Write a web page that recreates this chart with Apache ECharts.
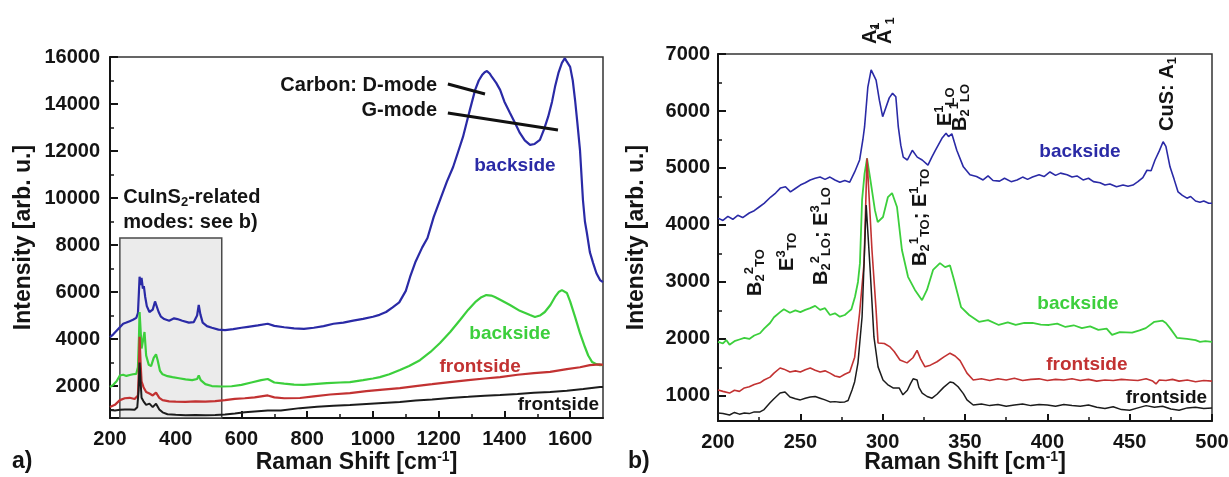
<!DOCTYPE html>
<html><head><meta charset="utf-8">
<script src="https://cdn.jsdelivr.net/npm/echarts@6/dist/echarts.min.js"></script>
<style>html,body{margin:0;padding:0;background:#fff}#c{width:1229px;height:477px}</style>
</head><body><div id="c"></div>
<script>
// ---------------- DATA ----------------
// Panel a) : Raman shift [cm-1] vs intensity
const aBacksideBlue = [[200,4080],[210,4200],[220,4350],[230,4500],[240,4650],[250,4700],[260,4760],[270,4820],[280,4900],[285,5100],[288,6000],[290,6650],[293,6300],[296,6600],[300,6150],[303,6250],[307,5800],[312,5400],[320,5150],[330,5250],[337,5600],[342,5550],[348,5150],[355,4950],[365,4850],[380,4780],[395,4880],[405,4850],[420,4780],[440,4700],[455,4720],[465,5000],[470,5450],[475,5050],[482,4700],[495,4550],[510,4480],[530,4400],[550,4380],[575,4420],[600,4480],[620,4520],[650,4580],[680,4650],[700,4560],[730,4500],[760,4450],[790,4430],[820,4480],[850,4550],[880,4650],[910,4700],[940,4780],[970,4860],[1000,4950],[1020,5030],[1040,5150],[1060,5350],[1080,5560],[1100,6050],[1113,6640],[1130,7300],[1150,7900],[1166,8300],[1185,9200],[1204,9915],[1225,10700],[1244,11320],[1260,12000],[1274,12600],[1285,13200],[1295,13750],[1311,14600],[1322,15000],[1332,15230],[1340,15350],[1347,15400],[1355,15300],[1362,15150],[1375,14900],[1387,14600],[1400,14100],[1417,13620],[1432,13200],[1447,12770],[1462,12450],[1478,12260],[1492,12300],[1508,12470],[1520,12900],[1533,13450],[1545,14100],[1554,14730],[1565,15350],[1575,15750],[1584,15950],[1590,15800],[1600,15580],[1608,15000],[1615,14170],[1622,13200],[1630,12040],[1639,9915],[1645,9000],[1651,8510],[1660,7700],[1670,7230],[1680,6800],[1691,6510],[1700,6420]];
const aBacksideGreen = [[200,1960],[210,2050],[220,2200],[230,2450],[240,2480],[250,2430],[260,2470],[270,2500],[280,2520],[285,2800],[288,4000],[290,5150],[293,4400],[296,3600],[300,3900],[305,4300],[310,3300],[318,2900],[325,2850],[333,3200],[340,3350],[345,3100],[352,2650],[360,2500],[375,2420],[390,2380],[410,2330],[430,2280],[450,2250],[465,2300],[470,2450],[476,2250],[490,2080],[510,2000],[540,1980],[570,1990],[600,2050],[630,2150],[660,2250],[680,2300],[700,2150],[730,2100],[760,2060],[790,2050],[820,2080],[860,2120],[900,2150],[930,2170],[970,2250],[1000,2320],[1021,2380],[1050,2500],[1082,2680],[1110,2850],[1143,3100],[1175,3450],[1204,3830],[1235,4300],[1265,4810],[1290,5250],[1311,5570],[1330,5780],[1345,5870],[1360,5850],[1371,5790],[1390,5650],[1417,5450],[1447,5200],[1478,5020],[1493,4940],[1508,5000],[1523,5150],[1540,5450],[1554,5790],[1565,6000],[1575,6080],[1590,5960],[1600,5600],[1615,4940],[1630,4250],[1645,3660],[1655,3300],[1667,3020],[1680,2930],[1691,2890],[1700,2900]];
const aFrontsideRed = [[200,1110],[215,1200],[230,1400],[245,1480],[260,1500],[275,1450],[285,1600],[288,2800],[290,4100],[293,3000],[296,2200],[302,1950],[310,1750],[320,1680],[330,1600],[340,1720],[350,1500],[360,1400],[380,1350],[400,1340],[430,1330],[460,1350],[490,1340],[520,1360],[550,1400],[580,1450],[610,1480],[640,1520],[680,1600],[700,1520],[730,1480],[778,1490],[820,1560],[870,1640],[930,1700],[980,1780],[1030,1850],[1082,1915],[1130,2000],[1180,2080],[1234,2170],[1290,2250],[1340,2320],[1387,2380],[1440,2480],[1490,2550],[1539,2600],[1590,2720],[1630,2800],[1660,2890],[1690,2920],[1700,2900]];
const aFrontsideBlack = [[200,980],[215,960],[230,990],[245,1000],[260,1000],[275,990],[283,1100],[287,1800],[290,3000],[293,2200],[296,1500],[302,1350],[310,1200],[320,1250],[330,1100],[340,1250],[350,1000],[360,880],[375,800],[400,780],[430,760],[460,770],[490,760],[520,770],[550,790],[580,830],[610,880],[640,920],[680,960],[720,960],[778,1060],[830,1120],[880,1160],[930,1190],[980,1240],[1030,1280],[1082,1320],[1130,1380],[1180,1430],[1234,1490],[1290,1540],[1340,1590],[1387,1620],[1440,1660],[1490,1710],[1539,1745],[1590,1800],[1640,1870],[1691,1960],[1700,1960]];

// Panel b)
const bBacksideBlue = [[200,4120],[203,4080],[206,4150],[209,4100],[212,4170],[215,4130],[219,4210],[222,4250],[225,4315],[228,4380],[232,4490],[235,4560],[238,4650],[241,4670],[244,4580],[247,4640],[250,4700],[253,4740],[256,4790],[259,4820],[262,4840],[265,4800],[268,4840],[271,4790],[274,4750],[277,4780],[280,4750],[283,4930],[286,5140],[288,5500],[289,5720],[291,6420],[293,6720],[296,6540],[298,6190],[300,5900],[301,5890],[304,6230],[306,6310],[308,6250],[309.5,5720],[311,5400],[312.5,5190],[315,5140],[318,5310],[321,5190],[324,5140],[327.5,5050],[330,5200],[332,5310],[336,5520],[338.5,5610],[340,5550],[342,5600],[345,5310],[349,5020],[353,4880],[357,4850],[361,4790],[364,4860],[367,4780],[371,4770],[374,4820],[378,4760],[381.6,4790],[385,4840],[388,4800],[391,4840],[395,4880],[398,4850],[401.6,4930],[405,4870],[408,4910],[412,4880],[415,4840],[418,4860],[421.7,4790],[425,4820],[428,4760],[432,4740],[435,4700],[438,4720],[442,4670],[446,4700],[449,4680],[452,4700],[455,4760],[458,4830],[460.5,4960],[463,4950],[465.4,5140],[468,5300],[470.3,5460],[472,5380],[474.5,5020],[477,4800],[479.4,4580],[482,4520],[484.8,4470],[487,4500],[490,4420],[492.7,4400],[495,4420],[498,4380],[500,4380]];
const bBacksideGreen = [[200,1950],[203,1920],[205,1980],[207,1900],[210,1960],[213,1990],[216,2020],[219,2000],[222,2060],[225.5,2100],[228,2180],[231.6,2280],[234,2380],[237.7,2470],[240,2520],[243.7,2460],[247,2500],[250,2470],[253,2510],[256,2540],[259,2580],[262,2510],[265,2540],[268,2420],[271,2450],[274,2390],[277,2420],[279,2470],[281,2520],[283.2,2740],[285,3000],[286.2,3330],[287.5,4440],[289,4900],[290.5,5170],[292.3,4840],[295.3,4260],[297,4050],[300.2,4140],[303.2,4490],[305.7,4560],[308.7,4315],[311.7,3560],[315.4,3090],[319.6,2860],[323.9,2680],[326.9,2860],[330.6,3210],[334.8,3330],[337.9,3260],[340.9,3290],[343.4,3030],[347.6,2560],[352.5,2420],[358.5,2300],[364,2330],[370.5,2245],[376,2290],[380.8,2245],[386,2280],[391,2280],[396,2250],[401,2245],[406,2270],[411,2210],[416,2240],[421,2190],[426,2220],[431,2160],[436,2180],[439.3,2070],[444,2120],[451.5,2110],[456,2150],[459.8,2190],[465,2300],[470,2320],[472,2280],[474.5,2190],[478.7,2020],[484.8,2000],[490,1980],[492.7,1950],[496,1960],[500,1950]];
const bFrontsideRed = [[200,1105],[203,1080],[207,1050],[210,1100],[213,1080],[216,1140],[219,1160],[222,1200],[225.5,1230],[228,1280],[231.6,1330],[234,1400],[237.7,1490],[240,1470],[243.7,1420],[247,1440],[250,1420],[253,1460],[256,1490],[259,1450],[262,1420],[265,1440],[268,1400],[271,1350],[274,1330],[277,1380],[280,1420],[283,1680],[286,2460],[288.7,3330],[290.5,5170],[293.5,3560],[296,2510],[297.2,1930],[298.4,1950],[301,1920],[304.5,1860],[307,1780],[310.5,1630],[314.8,1580],[318.4,1670],[320.9,1800],[323,1650],[325.7,1510],[329,1540],[333,1600],[337,1680],[340.9,1750],[344,1700],[347,1620],[351.2,1400],[355,1280],[360,1300],[365,1270],[370,1300],[375,1280],[380,1310],[385,1270],[390,1290],[395,1300],[400,1270],[405,1290],[410,1280],[415,1300],[420,1270],[425,1290],[430,1260],[435,1280],[440,1270],[445,1290],[450,1280],[455,1270],[460,1300],[464,1260],[466,1210],[468,1280],[472,1270],[476,1290],[480,1260],[485,1280],[490,1250],[495,1270],[500,1260]];
const bFrontsideBlack = [[200,700],[203,690],[207,665],[210,710],[213,680],[216,700],[219,690],[222,720],[225.5,720],[228,760],[231.6,880],[234,950],[237.7,1050],[240.7,1070],[243.7,980],[247,950],[250,930],[253,960],[256,980],[259,990],[262,960],[265,930],[268,895],[271,900],[274,890],[277,895],[279,920],[281.4,1105],[283,1250],[285,1580],[287.5,2390],[290,4350],[292.3,3260],[294.7,2035],[297.2,1510],[300.2,1280],[303,1200],[306.3,1140],[310,1140],[312.3,1020],[315,1100],[317,1220],[318.5,1300],[320.9,1280],[322,1150],[324,1050],[327,990],[330,960],[333,1030],[337,1150],[340.9,1245],[343,1230],[345.8,1160],[349,1040],[351.2,930],[355,840],[360,860],[365,830],[370,850],[375,820],[380,840],[385,860],[390,830],[395,850],[400,840],[405,820],[410,850],[415,830],[420,820],[425,840],[430,800],[435,780],[440,810],[445,760],[450,750],[455,790],[460,830],[465,800],[470,820],[475,770],[480,750],[485,790],[490,800],[495,780],[500,790]];

// Tick labels
const aXTicks = [200,400,600,800,1000,1200,1400,1600];
const aXMinor = [300,500,700,900,1100,1300,1500];
const aYTicks = [2000,4000,6000,8000,10000,12000,14000,16000];
const aYMinor = [1000,3000,5000,7000,9000,11000,13000,15000];
const bXTicks = [200,250,300,350,400,450,500];
const bXMinor = [225,275,325,375,425,475];
const bYTicks = [1000,2000,3000,4000,5000,6000,7000];
const bYMinor = [1500,2500,3500,4500,5500,6500];

// Annotation anchors (data coordinates)
const aRegionBox = [[230,640],[540,8300]];
const aModeLines = [[[1228,14851],[1341,14426]],[[1228,13617],[1563,12894]]];
</script>
<script>
const FONT = '"Liberation Sans", Arial, Helvetica, sans-serif';
const INK = '#141414';
const C_BLUE = '#2a2aa6', C_GREEN = '#3ccf3c', C_RED = '#c23232', C_BLACK = '#1c1c1c';
const chart = echarts.init(document.getElementById('c'), null, {renderer:'canvas'});

function nameRich(){
  return {a:{fontSize:23,fontWeight:'bold',fontFamily:FONT,color:INK,lineHeight:26},
          s:{fontSize:14,fontWeight:'bold',fontFamily:FONT,color:INK,lineHeight:14,verticalAlign:'top'}};
}
const plain = v => String(v);
function mainX(grid,min,max,ticks,gap){
  return {type:'value',gridIndex:grid,min:min,max:max,
    axisLine:{show:true,onZero:false,lineStyle:{color:INK,width:2}},
    axisTick:{show:true,inside:true,length:7,customValues:ticks,lineStyle:{color:INK,width:2}},
    axisLabel:{customValues:ticks,formatter:plain,margin:11,fontSize:20,fontWeight:'bold',fontFamily:FONT,color:INK},
    splitLine:{show:false},
    name:'{a|Raman Shift [cm}{s|-1}{a|]}',nameLocation:'middle',nameGap:gap,nameMoveOverlap:false,nameTextStyle:{rich:nameRich()}};
}
function minorX(grid,min,max,ticks){
  return {type:'value',gridIndex:grid,min:min,max:max,position:'bottom',
    axisLine:{show:false,onZero:false},axisLabel:{show:false},splitLine:{show:false},
    axisTick:{show:true,inside:true,length:4,customValues:ticks,lineStyle:{color:INK,width:1.5}}};
}
function mainY(grid,min,max,ticks,gap,margin){
  return {type:'value',gridIndex:grid,min:min,max:max,
    axisLine:{show:true,onZero:false,lineStyle:{color:INK,width:2}},
    axisTick:{show:true,inside:true,length:8,customValues:ticks,lineStyle:{color:INK,width:2}},
    axisLabel:{customValues:ticks,formatter:plain,margin:margin,fontSize:20,fontWeight:'bold',fontFamily:FONT,color:INK},
    splitLine:{show:false},
    name:'{a|Intensity [arb. u.]}',nameLocation:'middle',nameRotate:90,nameGap:gap,nameMoveOverlap:false,nameTextStyle:{rich:nameRich()}};
}
function minorY(grid,min,max,ticks){
  return {type:'value',gridIndex:grid,min:min,max:max,position:'left',
    axisLine:{show:false,onZero:false},axisLabel:{show:false},splitLine:{show:false},
    axisTick:{show:true,inside:true,length:4,customValues:ticks,lineStyle:{color:INK,width:1.5}}};
}
function line(data,color,xi,yi,w,z){
  return {type:'line',data:data,xAxisIndex:xi,yAxisIndex:yi,showSymbol:false,symbol:'none',
    lineStyle:{color:color,width:w},itemStyle:{color:color},z:z,silent:true};
}

const option = {
  animation:false,
  backgroundColor:'#fff',
  grid:[
    {left:110,top:57,width:493,height:361,outerBoundsMode:'none',containLabel:false,show:true,borderColor:'#333',borderWidth:1.5,backgroundColor:'transparent'},
    {left:718,top:54,width:494,height:367,outerBoundsMode:'none',containLabel:false,show:true,borderColor:'#333',borderWidth:1.5,backgroundColor:'transparent'}
  ],
  xAxis:[mainX(0,200,1700,aXTicks,32),minorX(0,200,1700,aXMinor),mainX(1,200,500,bXTicks,29),minorX(1,200,500,bXMinor)],
  yAxis:[mainY(0,640,16000,aYTicks,73,10),minorY(0,640,16000,aYMinor),mainY(1,560,7000,bYTicks,68,8),minorY(1,560,7000,bYMinor)],
  series:[
    {type:'line',data:[],xAxisIndex:0,yAxisIndex:0,z:1,silent:true,
      markArea:{silent:true,itemStyle:{color:'#ebebeb',borderColor:'#4a4a4a',borderWidth:1.5},
        data:[[{coord:aRegionBox[0]},{coord:aRegionBox[1]}]]}},
    line(aBacksideBlue,C_BLUE,0,0,2.2,2),
    line(aBacksideGreen,C_GREEN,0,0,2.2,3),
    line(aFrontsideRed,C_RED,0,0,2.2,4),
    line(aFrontsideBlack,C_BLACK,0,0,2,5),
    {type:'line',data:[],xAxisIndex:0,yAxisIndex:0,z:8,silent:true,
      markLine:{silent:true,symbol:['none','none'],label:{show:false},lineStyle:{color:'#111',width:3,type:'solid'},
        data:aModeLines.map(s=>[{coord:s[0]},{coord:s[1]}])}},
    line(bBacksideBlue,C_BLUE,2,2,1.6,2),
    line(bBacksideGreen,C_GREEN,2,2,1.8,3),
    line(bFrontsideRed,C_RED,2,2,1.6,4),
    line(bFrontsideBlack,C_BLACK,2,2,1.5,5)
  ]
};
chart.setOption(option);

// ---------- text annotations placed through the axes ----------
function P(panel,x,y){
  const i = panel===0?0:2;
  return chart.convertToPixel({xAxisIndex:i,yAxisIndex:i},[x,y]);
}
function rich(color,main,sub){
  return {m:{fontSize:main,fontWeight:'bold',fontFamily:FONT,fill:color,lineHeight:24},
          sb:{fontSize:sub,fontWeight:'bold',fontFamily:FONT,fill:color,lineHeight:13,verticalAlign:'bottom'},
          sp:{fontSize:sub,fontWeight:'bold',fontFamily:FONT,fill:color,lineHeight:13,verticalAlign:'top'}};
}
function T(panel,x,y,text,color,opts){
  opts = opts||{};
  const p = P(panel,x,y);
  return {type:'text',x:p[0],y:p[1],rotation:opts.rot||0,silent:true,z:100,
    style:{text:text,rich:rich(color,opts.size||20,opts.sub||13),fontSize:opts.size||20,fontWeight:'bold',fontFamily:FONT,fill:color,
      align:opts.align||'center',verticalAlign:'middle'}};
}
const R = Math.PI/2;
const V = {rot:R, align:'left'};   // vertical label, anchored at its lower end
const g = [
  // panel a
  T(0,1195,14809,'{m|Carbon: D-mode}',INK,{align:'right'}),
  T(0,1195,13745,'{m|G-mode}',INK,{align:'right'}),
  T(0,240,10043,'{m|CuInS}{sb|2}{m|-related}',INK,{align:'left'}),
  T(0,240,8979,'{m|modes: see b)}',INK,{align:'left'}),
  T(0,1432,11362,'{m|backside}',C_BLUE,{size:19}),
  T(0,1417,4214,'{m|backside}',C_GREEN,{size:19}),
  T(0,1326,2810,'{m|frontside}',C_RED,{size:19}),
  T(0,1688,1193,'{m|frontside}',INK,{size:19,align:'right'}),
  // panel b
  T(1,419.8,5280,'{m|backside}',C_BLUE,{size:19}),
  T(1,418.6,2614,'{m|backside}',C_GREEN,{size:19}),
  T(1,424,1544,'{m|frontside}',C_RED,{size:19}),
  T(1,497,965,'{m|frontside}',INK,{size:19,align:'right'}),
  T(1,222.5,2755,'{m|B}{sb|2}{sp|2}{sb|TO}',INK,V),
  T(1,241.9,3193,'{m|E}{sp|3}{sb|TO}',INK,V),
  T(1,262.6,2947,'{m|B}{sb|2}{sp|2}{sb|LO}{m|; E}{sp|3}{sb|LO}',INK,V),
  T(1,322.7,3280,'{m|B}{sb|2}{sp|1}{sb|TO}{m|; E}{sp|1}{sb|TO}',INK,V),
  T(1,337.9,5736,'{m|E}{sp|1}{sb|LO}',INK,V),
  T(1,347.2,5650,'{m|B}{sb|2}{sp|1}{sb|LO}',INK,V),
  T(1,292.5,7174,'{m|A}{sb|1}',INK,V),
  T(1,301.5,7174,'{m|A}{sp|*}{sb|1}',INK,V),
  T(1,472.7,5650,'{m|CuS: A}{sb|1}',INK,V)
];
// panel letters
g.push({type:'text',left:12,top:450,silent:true,style:{text:'a)',fontSize:23,fontWeight:'bold',fontFamily:FONT,fill:INK}});
g.push({type:'text',left:628,top:450,silent:true,style:{text:'b)',fontSize:23,fontWeight:'bold',fontFamily:FONT,fill:INK}});
chart.setOption({graphic:g});
</script></body></html>
